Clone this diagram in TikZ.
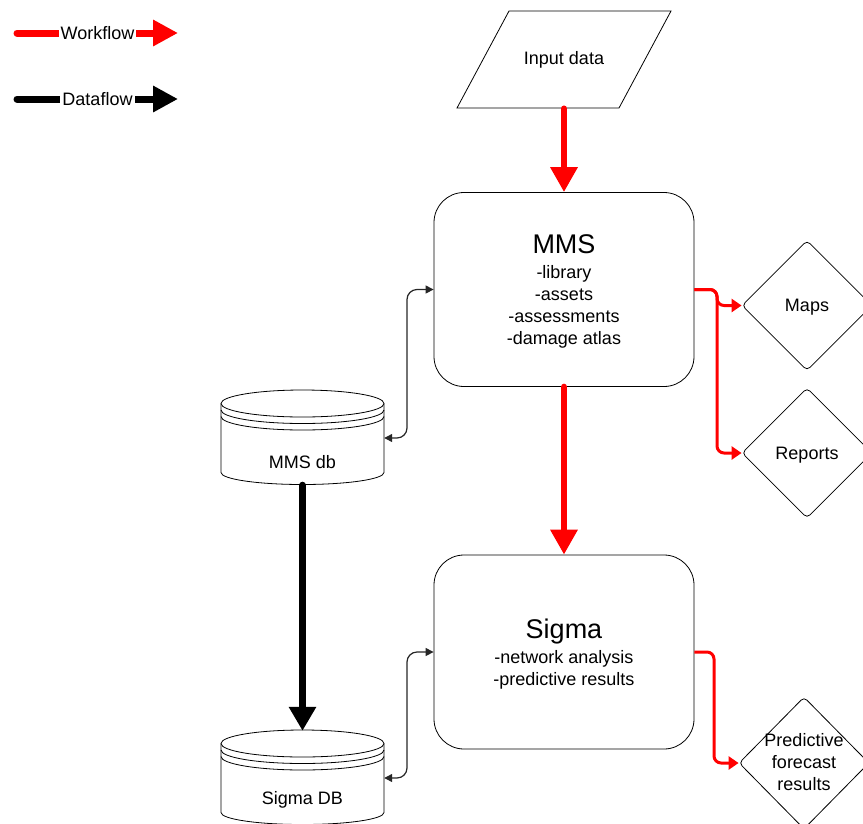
\documentclass[tikz,border=0pt]{standalone}
\usepackage{fontspec}
\setmainfont{Liberation Sans}
\usetikzlibrary{arrows.meta,shapes.geometric}
\newcommand{\dbcyl}[2]{%
 \draw[line width=0.8pt, fill=white] (#1-81.5,#2) -- (#1-81.5,#2+69) arc[start angle=180,end angle=360,x radius=81.5pt,y radius=12pt] -- (#1+81.5,#2) arc[start angle=0,end angle=180,x radius=81.5pt,y radius=13.5pt] -- cycle;
 \foreach \dd in {0,6.5,13} \draw[line width=0.8pt] (#1-81.5,#2+\dd) arc[start angle=180,end angle=360,x radius=81.5pt,y radius=13.5pt];
}
\begin{document}
\begin{tikzpicture}[x=1pt,y=-1pt, font=\fontsize{18}{22}\selectfont,
  box/.style={draw, rounded corners=30pt, minimum width=260pt, minimum height=194pt, inner sep=0pt, line width=0.8pt},
  boxtxt/.style={align=center, inner sep=0pt},
  dia/.style={draw, diamond, aspect=1, minimum width=130pt, minimum height=130pt, inner sep=0pt, rounded corners=4pt, align=center, line width=0.8pt},
  wfbig/.style={red, line width=6.5pt, line cap=round, -{Triangle[width=26pt,length=25pt]}},
  dfbig/.style={black, line width=7pt, line cap=round, -{Triangle[width=26pt,length=24pt]}},
  wfthin/.style={red, line width=3pt, rounded corners=7pt, -{Triangle[width=13pt,length=10pt]}},
  dbl/.style={black!85, line width=1.2pt, rounded corners=10pt, {Triangle[width=8pt,length=8pt]}-{Triangle[width=8pt,length=8pt]}},
  legtxt/.style={fill=white, inner sep=2pt, text=black}]
\useasboundingbox (0,0) rectangle (863,823);
\clip (0,0) rectangle (863,823);

% legend
\coordinate (wfa) at (17,33); \coordinate (wfb) at (178,33);
\draw[red, line width=7pt, line cap=round, -{Triangle[width=25pt,length=25pt]}] (wfa) -- node[legtxt] (wft) {Workflow} (wfb);
\coordinate (dfa) at (17,99); \coordinate (dfb) at (178,99);
\draw[black, line width=7pt, line cap=round, -{Triangle[width=25pt,length=25pt]}] (dfa) -- node[legtxt] (dft) {Dataflow} (dfb);

% input data
\draw[line width=0.8pt] (509,11) -- (671,11) -- (619,108) -- (457,108) -- cycle;
\node[minimum width=162pt, minimum height=97pt, inner sep=0pt] (in) at (564,60) {Input data};

% main boxes
\node[box] (mms) at (564,289.5) {};
\node[boxtxt] (mmst) at (564,291.5) {{\fontsize{27}{30}\selectfont MMS}\\[3pt]-library\\-assets\\-assessments\\-damage atlas};
\node[box] (sigma) at (564,652) {};
\node[boxtxt] (sigmat) at (564,654) {{\fontsize{27}{30}\selectfont Sigma}\\[3pt]-network analysis\\-predictive results};

% databases
\dbcyl{302.5}{403.5}
\node[minimum width=163pt, minimum height=94pt, inner sep=0pt] (mmsdb) at (302.5,438) {};
\node (mmsdbt) at (302.5,462) {MMS db};
\dbcyl{302.5}{743.5}
\node[minimum width=163pt, minimum height=94pt, inner sep=0pt] (sigmadb) at (302.5,778) {};
\node (sigmadbt) at (302.5,800) {Sigma DB};

% outputs
\node[dia] (maps) at (807,305.5) {};
\node (mapst) at (807,307.5) {Maps};
\node[dia] (reports) at (807,453) {};
\node (reportst) at (807,455) {Reports};
\node[dia, minimum height=132pt] (pred) at (804,763) {};
\node[align=center] (predt) at (804,762) {Predictive\\forecast\\results};

% coordinates for bends
\coordinate (c1) at (407,289.5); \coordinate (c2) at (407,438);
\coordinate (c3) at (407,652); \coordinate (c4) at (407,778);
\coordinate (r1) at (717,289.5); \coordinate (r2) at (717,305.5); \coordinate (r3) at (717,453);
\coordinate (r4) at (714,652); \coordinate (r5) at (714,763);

% connectors
\draw[wfbig] (in.south) -- (mms.north);
\draw[wfbig] (mms.south) -- (sigma.north);
\draw[dfbig] (mmsdb.south) -- (sigmadb.north);
\draw[dbl] (mms.west) -- (c1) -- (c2) -- (mmsdb.east);
\draw[dbl] (sigma.west) -- (c3) -- (c4) -- (sigmadb.east);
\draw[wfthin] (mms.east) -- (r1) -- (r2) -- (maps.west);
\draw[wfthin] (mms.east) -- (r1) -- (r3) -- (reports.west);
\draw[wfthin] (sigma.east) -- (r4) -- (r5) -- (pred.west);
\end{tikzpicture}
\end{document}
